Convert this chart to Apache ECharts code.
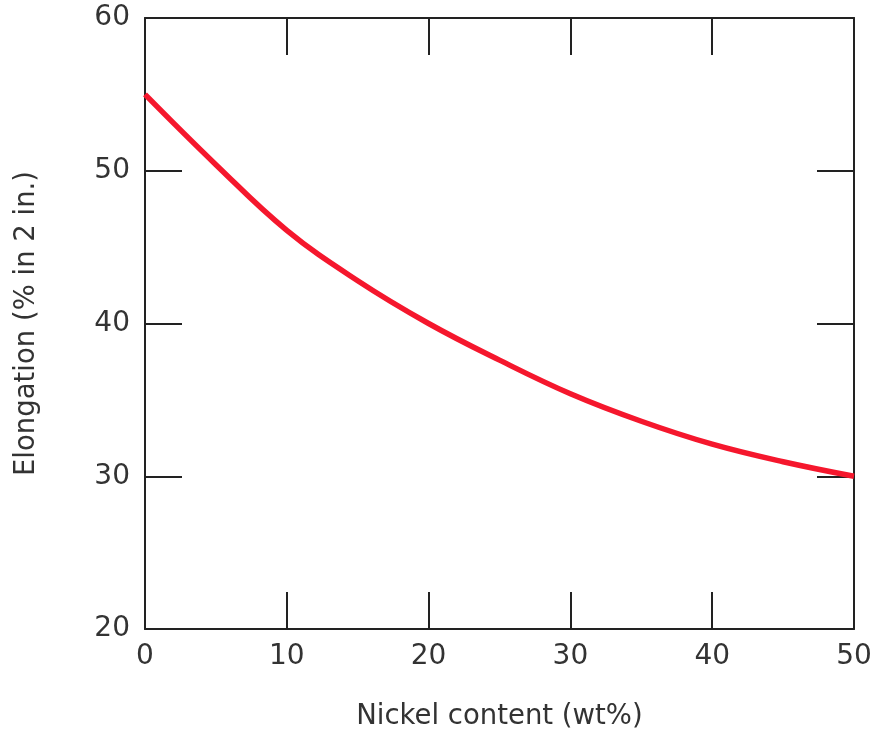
<!DOCTYPE html>
<html>
<head>
<meta charset="utf-8">
<script src="https://cdn.jsdelivr.net/npm/echarts@6/dist/echarts.min.js"></script>
<style>
html,body{margin:0;padding:0;background:#fff;}
#main{width:881px;height:733px;}
</style>
</head>
<body>
<div id="main"></div>
<script>
const nickel = [0, 5, 10, 15, 20, 25, 30, 35, 40, 45, 50];
const elongation = [55.0, 50.4, 46.1, 42.8, 40.0, 37.6, 35.4, 33.6, 32.1, 30.95, 30.0];
const xTitle = 'Nickel content (wt%)';
const yTitle = 'Elongation (% in 2 in.)';

const chart = echarts.init(document.getElementById('main'));
const font = 'DejaVu Sans';
const axisCol = '#222';
const txtCol = '#333';
function tickStyle() { return {show: true, inside: true, length: 37, lineStyle: {color: axisCol, width: 2}}; }
function lineSt() { return {show: true, onZero: false, lineStyle: {color: axisCol, width: 2}}; }

chart.setOption({
  animation: false,
  backgroundColor: '#fff',
  grid: {left: 145, top: 18, right: 27, bottom: 104, containLabel: false, outerBoundsMode: 'none'},
  xAxis: [
    {type: 'value', min: 0, max: 50, interval: 10, position: 'bottom',
     axisLine: lineSt(), axisTick: tickStyle(), splitLine: {show: false},
     axisLabel: {color: txtCol, fontFamily: font, fontSize: 28, margin: 14},
     name: xTitle, nameLocation: 'middle', nameGap: 74,
     nameTextStyle: {color: txtCol, fontFamily: font, fontSize: 27.5}},
    {type: 'value', min: 0, max: 50, interval: 10, position: 'top',
     axisLine: lineSt(), axisTick: tickStyle(), splitLine: {show: false},
     axisLabel: {show: false}}
  ],
  yAxis: [
    {type: 'value', min: 20, max: 60, interval: 10, position: 'left',
     axisLine: lineSt(), axisTick: tickStyle(), splitLine: {show: false},
     axisLabel: {color: txtCol, fontFamily: font, fontSize: 28, margin: 15},
     name: yTitle, nameLocation: 'middle', nameGap: 104, nameRotate: 90,
     nameTextStyle: {color: txtCol, fontFamily: font, fontSize: 27.5}},
    {type: 'value', min: 20, max: 60, interval: 10, position: 'right',
     axisLine: lineSt(), axisTick: tickStyle(), splitLine: {show: false},
     axisLabel: {show: false}}
  ],
  series: [{
    type: 'line',
    data: nickel.map((x, i) => [x, elongation[i]]),
    smooth: 0.4,
    showSymbol: false,
    lineStyle: {color: '#f5172d', width: 5.5},
    xAxisIndex: 0, yAxisIndex: 0,
    clip: false
  }]
});
</script>
</body>
</html>
